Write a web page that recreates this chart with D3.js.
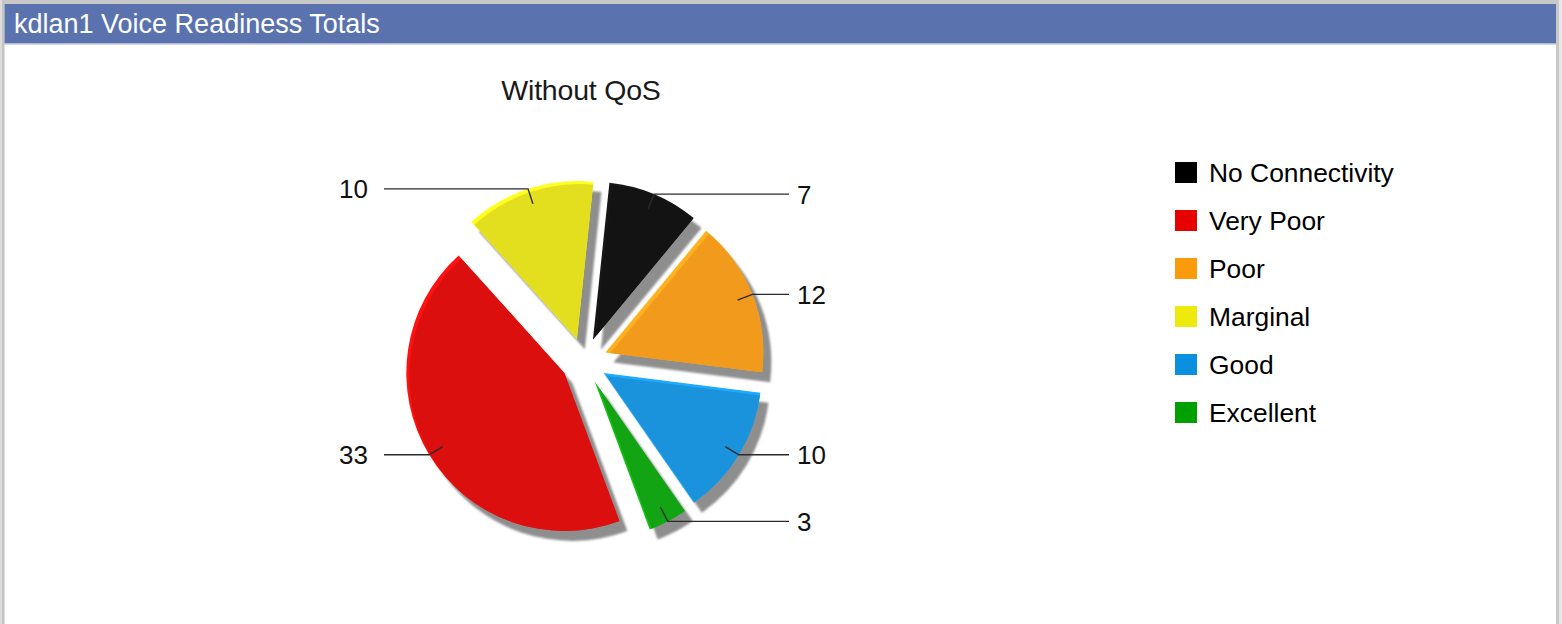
<!DOCTYPE html>
<html><head><meta charset="utf-8">
<script src="https://cdn.jsdelivr.net/npm/d3@7"></script>
<style>body{margin:0;background:#fff}svg{display:block;font-family:"Liberation Sans",Arial,sans-serif}</style>
</head><body><svg id="c" width="1562" height="624"></svg>
<script>
const panelTitle = "kdlan1 Voice Readiness Totals";
const chartTitle = "Without QoS";
const categories = ["No Connectivity", "Very Poor", "Poor", "Marginal", "Good", "Excellent"];
const values = [7, 33, 12, 10, 10, 3];
const pieOrder = ["No Connectivity", "Poor", "Good", "Excellent", "Very Poor", "Marginal"];
const legendColors = ["#000000", "#e60000", "#fb9a0a", "#eeea0e", "#0b90e0", "#00a000"];
const sliceColors = ["#131313", "#dc0f0f", "#f19a1b", "#e3df1f", "#1b93dc", "#12a412"];

const data = categories.map((name, i) => ({name, value: values[i], color: sliceColors[i], lcolor: legendColors[i]}));
const svg = d3.select("#c");
const W = 1562, H = 624;

// frame
svg.append("rect").attr("x",0).attr("y",0).attr("width",W).attr("height",H).attr("fill","#fff");
svg.append("rect").attr("x",0).attr("y",0).attr("width",W).attr("height",4).attr("fill","#c8c8c8");
svg.append("rect").attr("x",0).attr("y",0).attr("width",2).attr("height",H).attr("fill","#dcdcdc");
svg.append("rect").attr("x",2).attr("y",0).attr("width",2.5).attr("height",H).attr("fill","#c4c4c4");
svg.append("rect").attr("x",1556).attr("y",0).attr("width",3).attr("height",H).attr("fill","#c8c8c8");
svg.append("rect").attr("x",1559).attr("y",0).attr("width",3).attr("height",H).attr("fill","#e6e6e6");
svg.append("rect").attr("x",4.5).attr("y",4).attr("width",1551.5).attr("height",39.5).attr("fill","#5a73ae");
svg.append("rect").attr("x",4.5).attr("y",43.5).attr("width",1551.5).attr("height",1).attr("fill","#a9b7d6");
svg.append("text").attr("x",14).attr("y",33).attr("fill","#fff").attr("font-size","27px").text(panelTitle);

// chart title
const cx = 584, cy = 361, R = 158, E = 23;
svg.append("text").attr("x",581).attr("y",100).attr("text-anchor","middle").attr("font-size","28.5px")
  .attr("fill","#1a1a1a").attr("letter-spacing","-0.2px").text(chartTitle);

const a0 = 6 * Math.PI / 180;
const pie = d3.pie().value(d => d.value)
  .sort((a, b) => pieOrder.indexOf(a.name) - pieOrder.indexOf(b.name))
  .startAngle(a0).endAngle(a0 + 2 * Math.PI);
const arcs = pie(data);
const arc = d3.arc().innerRadius(0).outerRadius(R);
const off = d => { const m = (d.startAngle + d.endAngle) / 2; return [E * Math.sin(m), -E * Math.cos(m)]; };

const defs = svg.append("defs");
const f = defs.append("filter").attr("id","blur").attr("x","-20%").attr("y","-20%").attr("width","140%").attr("height","140%");
f.append("feGaussianBlur").attr("stdDeviation",1.2);

const g = svg.append("g").attr("transform", `translate(${cx},${cy})`);
// shadows
g.selectAll("path.shadow").data(arcs).join("path").attr("class","shadow")
  .attr("d", arc).attr("fill","#8e8e8e").attr("filter","url(#blur)")
  .attr("transform", d => { const o = off(d); return `translate(${o[0]+8},${o[1]+10})`; });

// slices with bevel highlight
arcs.forEach((d, i) => {
  const o = off(d);
  const sg = g.append("g").attr("transform", `translate(${o[0]},${o[1]})`);
  defs.append("clipPath").attr("id", "clip" + i).append("path").attr("d", arc(d));
  sg.append("path").attr("d", arc(d)).attr("fill", d3.color(d.data.color).brighter(0.4));
  sg.append("g").attr("clip-path", `url(#clip${i})`)
    .append("path").attr("d", arc(d)).attr("fill", d.data.color).attr("transform","translate(3,3)");
});

// labels with leader lines
const xr = cx + 205, xl = cx - 200;
arcs.forEach(d => {
  const o = off(d);
  const m = (d.startAngle + d.endAngle) / 2;
  const s = Math.sin(m), c = -Math.cos(m);
  const p1 = [o[0] + 0.9 * R * s, o[1] + 0.9 * R * c];
  const p2 = [o[0] + R * s, o[1] + R * c];
  const right = s > 0;
  const xe = (right ? xr : xl) - cx;
  g.append("path").attr("d", `M${p1[0]},${p1[1]}L${p2[0]},${p2[1]}L${xe},${p2[1]}`)
    .attr("fill","none").attr("stroke","#2a2a2a").attr("stroke-width",1.4);
  g.append("text").attr("x", right ? xe + 8 : xe - 16).attr("y", p2[1]).attr("dy","0.36em")
    .attr("text-anchor", right ? "start" : "end").attr("font-size","26px").attr("fill","#111")
    .text(d.data.value);
});

// legend
const lg = svg.append("g");
data.forEach((d, i) => {
  const y = 162 + i * 48;
  lg.append("rect").attr("x",1175).attr("y",y).attr("width",22).attr("height",21).attr("fill",d.lcolor);
  lg.append("text").attr("x",1209).attr("y",y + 20).attr("font-size","26.4px").attr("fill","#000").text(d.name);
});
</script></body></html>
